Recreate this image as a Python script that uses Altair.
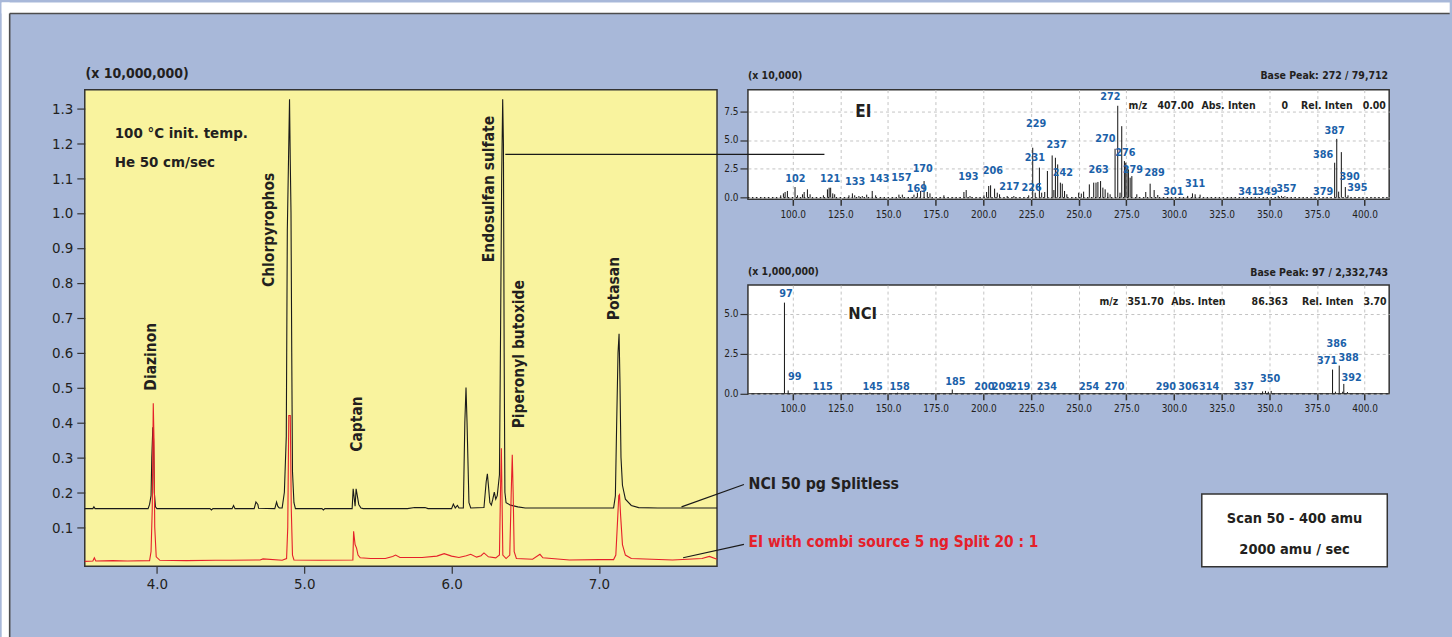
import altair as alt
import pandas as pd

# ---------------- data ----------------
# chromatogram, NCI 50 pg splitless (black trace)
nci_t = [3.51, 3.565, 3.572, 3.58, 3.94, 3.95, 3.96, 3.965, 3.972, 3.977, 3.982, 3.99, 4.00,
         4.36, 4.37, 4.38, 4.51, 4.52, 4.53, 4.66, 4.672, 4.685, 4.69, 4.80, 4.812, 4.82, 4.83,
         4.85, 4.865, 4.878, 4.885, 4.895, 4.90, 4.905, 4.91, 4.915, 4.92, 4.93, 4.94,
         5.12, 5.13, 5.14, 5.325, 5.332, 5.34, 5.345, 5.352, 5.36, 5.37, 5.385, 5.40,
         5.70, 5.75, 5.82, 5.84, 6.00, 6.012, 6.025, 6.04, 6.05, 6.08, 6.09, 6.098, 6.105, 6.11,
         6.118, 6.13, 6.22, 6.235, 6.243, 6.25, 6.26, 6.27, 6.28, 6.29, 6.30, 6.31, 6.325,
         6.333, 6.34, 6.347, 6.352, 6.357, 6.362, 6.37, 6.40, 6.45, 6.50, 6.80, 7.00, 7.10,
         7.112, 7.12, 7.13, 7.137, 7.143, 7.15, 7.16, 7.18, 7.22, 7.27, 7.40, 7.60, 7.802]
nci_v = [0.153, 0.153, 0.158, 0.153, 0.153, 0.165, 0.19, 0.30, 0.386, 0.35, 0.20, 0.158, 0.153,
         0.153, 0.149, 0.153, 0.153, 0.162, 0.153, 0.153, 0.172, 0.165, 0.154, 0.153, 0.172, 0.16, 0.155,
         0.155, 0.20, 0.36, 0.95, 1.20, 1.326, 1.15, 1.00, 0.60, 0.26, 0.17, 0.153,
         0.153, 0.149, 0.153, 0.153, 0.21, 0.18, 0.16, 0.21, 0.19, 0.165, 0.155, 0.153,
         0.153, 0.156, 0.156, 0.153, 0.153, 0.166, 0.155, 0.162, 0.155, 0.155, 0.40, 0.50, 0.40, 0.31,
         0.17, 0.155, 0.156, 0.23, 0.253, 0.22, 0.17, 0.163, 0.18, 0.20, 0.18, 0.19, 0.25,
         0.68, 1.10, 1.326, 1.20, 0.60, 0.20, 0.17, 0.163, 0.158, 0.155, 0.155, 0.155, 0.155,
         0.19, 0.38, 0.60, 0.654, 0.52, 0.30, 0.22, 0.18, 0.162, 0.156, 0.155, 0.155, 0.155]

# chromatogram, EI with combi source 5 ng split 20:1 (red trace)
ei_t = [3.51, 3.565, 3.575, 3.585, 3.70, 3.80, 3.95, 3.96, 3.968, 3.975, 3.98, 3.985, 3.995, 4.02,
        4.20, 4.40, 4.50, 4.70, 4.72, 4.85, 4.88, 4.888, 4.895, 4.905, 4.912, 4.92, 4.93,
        5.10, 5.33, 5.335, 5.345, 5.355, 5.365, 5.38, 5.45, 5.55, 5.60, 5.62, 5.65, 5.80,
        5.90, 5.95, 6.00, 6.05, 6.10, 6.13, 6.17, 6.20, 6.22, 6.25, 6.30, 6.325, 6.332,
        6.338, 6.342, 6.348, 6.37, 6.395, 6.405, 6.412, 6.418, 6.425, 6.44, 6.55, 6.60, 6.62,
        6.80, 7.00, 7.10, 7.115, 7.127, 7.135, 7.14, 7.148, 7.16, 7.18, 7.22, 7.50, 7.70, 7.75, 7.802]
ei_v = [0.002, 0.003, 0.012, 0.003, 0.004, 0.003, 0.004, 0.03, 0.15, 0.455, 0.35, 0.10, 0.015, 0.005,
        0.004, 0.005, 0.005, 0.006, 0.009, 0.005, 0.01, 0.10, 0.42, 0.42, 0.15, 0.02, 0.006,
        0.005, 0.006, 0.088, 0.05, 0.04, 0.02, 0.012, 0.01, 0.01, 0.016, 0.02, 0.013, 0.013,
        0.017, 0.024, 0.017, 0.013, 0.018, 0.022, 0.014, 0.018, 0.026, 0.015, 0.012, 0.02, 0.20,
        0.326, 0.20, 0.02, 0.01, 0.02, 0.20, 0.307, 0.20, 0.03, 0.01, 0.008, 0.022, 0.012,
        0.006, 0.007, 0.007, 0.02, 0.12, 0.19, 0.193, 0.13, 0.05, 0.02, 0.01, 0.006, 0.01, 0.016, 0.008]

peak_names = ["Diazinon", "Chlorpyrophos", "Captan", "Endosulfan sulfate", "Piperonyl butoxide", "Potasan"]
peak_label_t = [3.962, 4.763, 5.356, 6.252, 6.460, 7.103]
peak_label_v = [0.491, 0.788, 0.316, 0.859, 0.383, 0.693]

# EI mass spectrum (x 10,000)
ei_mz = [93.7, 95.1, 96.0, 97.2, 101.2, 102.5, 105.1, 106.0, 107.7, 109.1, 116.1, 118.2, 119.1, 119.9,
         121.0, 122.0, 129.5, 131.3, 132.5, 134.7, 136.5, 138.8, 141.7, 143.5, 155.7, 157.5, 163.6,
         165.4, 167.1, 168.9, 170.6, 172.0, 179.3, 189.8, 191.0, 193.0, 200.3, 201.7, 202.8, 203.8,
         205.9, 207.3, 208.5, 212.5, 216.0, 223.8, 225.9, 227.2, 229.4, 230.6, 232.2, 233.6, 236.1,
         237.0, 237.8, 239.0, 240.4, 241.4, 242.6, 243.8, 250.0, 251.4, 252.6, 255.6, 257.9, 259.1,
         260.1, 261.5, 262.7, 263.9, 265.3, 266.5, 269.1, 270.5, 271.7, 272.6, 274.0, 274.7, 275.4,
         276.1, 277.0, 277.9, 280.5, 285.2, 287.5, 289.6, 291.5, 307.2, 309.7, 311.1, 313.7, 354.7,
         356.4, 358.2, 384.3, 385.4, 386.4, 387.8, 389.9, 391.3]
ei_int = [0.20, 0.37, 0.49, 0.58, 0.92, 0.20, 0.29, 0.49, 0.72, 0.29, 0.20, 0.72, 0.86, 0.86,
          0.37, 0.29, 0.20, 0.37, 0.20, 0.14, 0.14, 0.26, 0.58, 0.20, 0.26, 0.26, 0.26,
          0.43, 0.58, 1.44, 0.49, 0.37, 0.20, 0.49, 0.66, 0.14, 0.20, 0.49, 1.01, 1.07,
          0.78, 0.43, 0.29, 0.14, 0.14, 0.20, 4.33, 0.43, 2.60, 0.43, 0.49, 2.31, 3.66,
          0.66, 3.46, 2.88, 1.30, 1.21, 0.58, 0.29, 0.43, 0.35, 0.52, 1.15, 1.30, 1.30,
          1.36, 1.44, 0.87, 0.72, 0.43, 0.29, 4.24, 7.97, 0.43, 6.20, 3.17, 3.03, 2.74,
          2.45, 1.73, 1.87, 0.29, 0.49, 1.21, 0.66, 0.23, 0.15, 0.37, 0.29, 0.26, 0.15,
          0.15, 0.12, 3.03, 5.10, 0.52, 3.95, 0.92, 0.20]
ei_lab = ["102", "121", "133", "143", "157", "170", "169", "193", "206", "217", "226", "229", "231",
          "237", "242", "263", "270", "272", "276", "279", "289", "301", "311", "341", "349", "357",
          "379", "386", "387", "390", "395"]
ei_lab_mz = [101.4, 119.6, 132.7, 145.4, 157.0, 168.2, 165.1, 192.1, 205.0, 213.6, 225.3, 227.7, 227.0,
             238.4, 241.7, 260.5, 264.0, 266.6, 274.5, 278.4, 289.8, 299.7, 311.1, 339.0, 349.0, 359.0,
             378.2, 378.2, 384.3, 392.2, 396.2]
ei_lab_int = [1.64, 1.64, 1.35, 1.59, 1.73, 2.45, 0.72, 1.82, 2.28, 0.95, 0.81, 6.43, 3.40,
              4.56, 2.10, 2.36, 5.10, 8.71, 3.83, 2.39, 2.16, 0.52, 1.15, 0.52, 0.52, 0.72,
              0.52, 3.69, 5.82, 1.82, 0.80]

# NCI mass spectrum (x 1,000,000)
nci_mz = [95.65, 97.6, 140.5, 155.0, 183.7, 230.0, 346.5, 348.0, 349.5, 351.0, 383.2, 384.7, 386.7,
          388.5, 389.1, 391.0]
nci_int = [5.69, 0.18, 0.04, 0.04, 0.24, 0.04, 0.12, 0.15, 0.10, 0.15, 1.49, 0.10, 1.74,
           0.10, 0.59, 0.08]
nci_lab = ["97", "99", "115", "145", "158", "185", "200", "209", "219", "234", "254", "270", "290",
           "306", "314", "337", "350", "371", "386", "388", "392"]
nci_lab_mz = [96.5, 101.0, 115.7, 141.9, 156.1, 185.3, 200.5, 209.7, 219.3, 233.3, 255.5, 268.8, 295.7,
              307.5, 318.4, 336.7, 350.4, 380.4, 385.3, 391.6, 393.2]
nci_lab_int = [6.25, 1.05, 0.39, 0.39, 0.39, 0.70, 0.39, 0.39, 0.39, 0.39, 0.39, 0.39, 0.39,
               0.39, 0.39, 0.39, 0.87, 2.05, 3.09, 2.19, 0.97]

# ---------------- style ----------------
FONT = "DejaVu Sans Condensed, sans-serif"
TXT = "#231f20"
DARK = "#333333"
BLUE_BG = "#a8b8d9"
YELLOW = "#f9f39e"
RED = "#e5202a"
LBL_BLUE = "#1b61a9"
ONE = pd.DataFrame({"k": [0]})


def txt(text, px, py, size, align="left", color=TXT, weight="bold", baseline="middle"):
    return alt.Chart(ONE).mark_text(
        text=text, align=align, baseline=baseline, fontSize=size, fontWeight=weight,
        color=color, font=FONT
    ).encode(x=alt.value(px), y=alt.value(py))


def seg(x1, y1, x2, y2, color=DARK, width=1.2):
    return alt.Chart(ONE).mark_rule(color=color, strokeWidth=width).encode(
        x=alt.value(x1), y=alt.value(y1), x2=alt.value(x2), y2=alt.value(y2))


def box(x1, y1, x2, y2, fill, stroke=None, sw=0):
    kw = dict(fill=fill)
    if stroke:
        kw.update(stroke=stroke, strokeWidth=sw)
    return alt.Chart(ONE).mark_rect(**kw).encode(
        x=alt.value(x1), x2=alt.value(x2), y=alt.value(y1), y2=alt.value(y2))


# ---------------- chromatogram panel ----------------
LW, LH = 634, 478
xc = alt.X("t:Q", scale=alt.Scale(domain=[3.51, 7.802], nice=False, zero=False),
           axis=alt.Axis(values=[4, 5, 6, 7], format=".1f", title=None, grid=False, domain=False,
                         tickSize=7, tickColor=DARK, tickWidth=1.2, labelFont=FONT, labelFontSize=15,
                         labelColor=TXT, labelPadding=3))
yc = alt.Y("v:Q", scale=alt.Scale(domain=[-0.0123, 1.3534], nice=False, zero=False),
           axis=alt.Axis(values=[0.1 * i for i in range(1, 14)], format=".1f", title=None, grid=False,
                         domain=False, tickSize=8, tickColor=DARK, tickWidth=1.2, labelFont=FONT,
                         labelFontSize=15, labelColor=TXT, labelPadding=4, labelOverlap=False))

nci_df = pd.DataFrame({"t": nci_t, "v": nci_v})
ei_df = pd.DataFrame({"t": ei_t, "v": ei_v})
pk_df = pd.DataFrame({"t": peak_label_t, "v": peak_label_v, "name": peak_names})

black_line = alt.Chart(nci_df).mark_line(color="#1a1a1a", strokeWidth=1.1).encode(x=xc, y=yc)
red_line = alt.Chart(ei_df).mark_line(color=RED, strokeWidth=1.1).encode(x=xc, y=yc)
peak_txt = alt.Chart(pk_df).mark_text(angle=270, align="left", baseline="middle", font=FONT,
                                      fontWeight="bold", fontSize=15.5, color=TXT).encode(
    x=xc, y=yc, text="name:N")

# page frame (white margin top/left of the blue panel)
W_ALL, H_ALL = 1452, 637
ox, oy = 83.3, 87.3
frame = [
    box(-ox, -oy, W_ALL - ox, -oy + 11, "white"),
    box(-ox, -oy, -ox + 8, H_ALL - oy, "white"),
    seg(-ox + 8, -oy + 11, W_ALL - ox, -oy + 11, color="#4d4d4d", width=1.6),
    seg(-ox + 8, -oy + 11, -ox + 8, H_ALL - oy, color="#4d4d4d", width=1.6),
]

left = alt.layer(
    black_line, red_line, peak_txt,
    *frame,
    txt("(x 10,000,000)", 0.7, -15.3, 14),
    txt("100 \u00b0C init. temp.", 30, 43.7, 15),
    txt("He 50 cm/sec", 30, 72.7, 15),
    seg(598.4, 418.4, 661, 396, color="#1a1a1a", width=1.2),
    seg(600, 469.4, 661, 456, color="#1a1a1a", width=1.2),
    txt("NCI 50 pg Splitless", 665.6, 395.7, 15.8),
    txt("EI with combi source 5 ng Split 20 : 1", 665.6, 453.4, 15.4, color=RED),
    box(1120.1, 405.4, 1306.1, 478.4, "white", stroke="#333333", sw=1.5),
    txt("Scan 50 - 400 amu", 1213.1, 430.7, 14.5, align="center"),
    txt("2000 amu / sec", 1213.1, 461.2, 14.5, align="center"),
).properties(width=LW, height=LH,
             view=alt.ViewBackground(fill=YELLOW, stroke=DARK, strokeWidth=1.5))

# ---------------- spectrum panels ----------------
SW = 643


def spectrum(mz, inten, lab, lab_mz, lab_int, ydom, yticks, height, texts, dotted_base):
    xs = alt.X("mz:Q", scale=alt.Scale(domain=[76.5, 412.9], nice=False, zero=False),
               axis=alt.Axis(values=list(range(100, 401, 25)), format=".1f", title=None, grid=True,
                             gridDash=[3, 3], gridColor="#c4c4c4", gridWidth=1, domain=False,
                             tickSize=6, tickColor=DARK, tickWidth=1.5, labelFont=FONT,
                             labelFontSize=10, labelColor=TXT, labelPadding=4, labelOverlap=False))
    ys = alt.Y("inten:Q", scale=alt.Scale(domain=ydom, nice=False, zero=False),
               axis=alt.Axis(values=yticks, format=".1f", title=None, grid=True, gridDash=[3, 3],
                             gridColor="#c4c4c4", gridWidth=1, domain=False, tickSize=8,
                             tickColor=DARK, tickWidth=1.2, labelFont=FONT, labelFontSize=10,
                             labelColor=TXT, labelPadding=2, labelOverlap=False))
    bdf = pd.DataFrame({"mz": mz, "inten": inten, "base": [0.0] * len(mz)})
    ldf = pd.DataFrame({"mz": lab_mz, "inten": lab_int, "lab": lab})
    layers = [
        alt.Chart(bdf).mark_rule(color="#111111", strokeWidth=1).encode(x=xs, y=ys, y2="base:Q"),
        alt.Chart(ldf).mark_text(font=FONT, fontWeight="bold", fontSize=10.8, color=LBL_BLUE,
                                 baseline="middle", align="center").encode(x=xs, y=ys, text="lab:N"),
    ]
    if dotted_base:
        base_df = pd.DataFrame({"mz": [76.5, 412.9], "inten": [0.0, 0.0]})
        layers.append(alt.Chart(base_df).mark_line(color="#222222", strokeWidth=1.2,
                                                  strokeDash=[1.5, 2.5]).encode(x=xs, y=ys))
    layers += texts
    return alt.layer(*layers).properties(
        width=SW, height=height,
        view=alt.ViewBackground(fill="white", stroke=DARK, strokeWidth=1.5))


ei_texts = [
    txt("(x 10,000)", 0, -13.3, 10.5),
    txt("Base Peak: 272 / 79,712", 642, -13.3, 10.5, align="right"),
    txt("EI", 115.7, 22.7, 17, align="center"),
    txt("m/z", 381.7, 16.7, 10.5),
    txt("407.00", 410.7, 16.7, 10.5),
    txt("Abs. Inten", 454.7, 16.7, 10.5),
    txt("0", 541.7, 16.7, 10.5, align="right"),
    txt("Rel. Inten", 554.7, 16.7, 10.5),
    txt("0.00", 639.7, 16.7, 10.5, align="right"),
    seg(-243.3, 65, 76.7, 65, color="#1a1a1a", width=1.2),
]
nci_texts = [
    txt("(x 1,000,000)", 0, -13.3, 10.5),
    txt("Base Peak: 97 / 2,332,743", 642, -12.3, 10.5, align="right"),
    txt("NCI", 115, 29.4, 16.5, align="center"),
    txt("m/z", 352.5, 17, 10.5),
    txt("351.70", 380.5, 17, 10.5),
    txt("Abs. Inten", 424.5, 17, 10.5),
    txt("86.363", 541.5, 17, 10.5, align="right"),
    txt("Rel. Inten", 555.5, 17, 10.5),
    txt("3.70", 640.5, 17, 10.5, align="right"),
]

ei_chart = spectrum(ei_mz, ei_int, ei_lab, ei_lab_mz, ei_lab_int, [-0.147, 9.37],
                    [0, 2.5, 5.0, 7.5], 110, ei_texts, True)
nci_chart = spectrum(nci_mz, nci_int, nci_lab, nci_lab_mz, nci_lab_int, [-0.03, 6.79],
                     [0, 2.5, 5.0], 109, nci_texts, False)

right = alt.vconcat(ei_chart, nci_chart, spacing=86, bounds="flush")

chart = alt.hconcat(left, right, spacing=31, bounds="flush").properties(
    padding=0
).configure(background=BLUE_BG)

chart.save("out.html", embed_options={"renderer": "svg", "actions": False})
